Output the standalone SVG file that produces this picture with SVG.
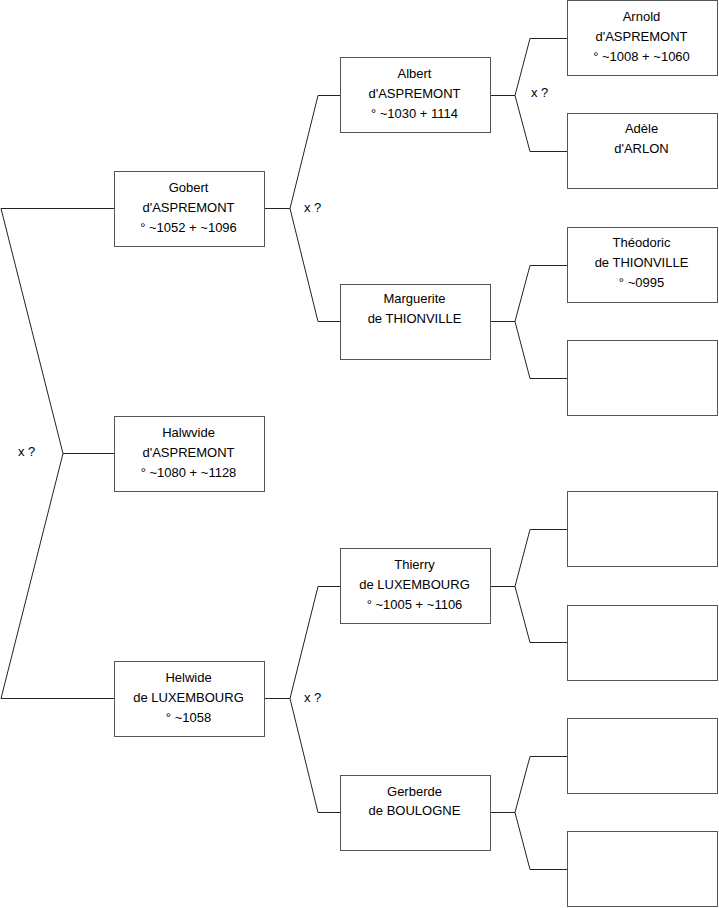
<svg xmlns="http://www.w3.org/2000/svg" width="719" height="908" viewBox="0 0 719 908">
<style>
.box{fill:#fff;stroke:#555;stroke-width:1}
.t{font-family:"Liberation Sans",Arial,sans-serif;font-size:13px;fill:#000;text-anchor:middle}
.x{font-family:"Liberation Sans",Arial,sans-serif;font-size:13px;fill:#000}
.c{fill:none;stroke:#222;stroke-width:1}
</style>
<rect width="719" height="908" fill="#fff"/>
<g id="connectors">
<polyline class="c" points="114,453.5 63,453.5"/>
<polyline class="c" points="63,453.5 1,208.5 114,208.5"/>
<polyline class="c" points="63,453.5 1,698.5 114,698.5"/>
<polyline class="c" points="265,208.5 290,208.5 318,95.5 340,95.5"/>
<polyline class="c" points="290,208.5 318,321.5 340,321.5"/>
<polyline class="c" points="265,698.5 290,698.5 318,586.5 340,586.5"/>
<polyline class="c" points="290,698.5 318,812.5 340,812.5"/>
<polyline class="c" points="491,95.5 515,95.5 530,38.5 567,38.5"/>
<polyline class="c" points="515,95.5 530,151.5 567,151.5"/>
<polyline class="c" points="491,321.5 515,321.5 530,265.5 567,265.5"/>
<polyline class="c" points="515,321.5 530,378.5 567,378.5"/>
<polyline class="c" points="491,586.5 515,586.5 530,529.5 567,529.5"/>
<polyline class="c" points="515,586.5 530,642.5 567,642.5"/>
<polyline class="c" points="491,812.5 515,812.5 530,756.5 567,756.5"/>
<polyline class="c" points="515,812.5 530,869.5 567,869.5"/>
<text class="x" x="18" y="456">x ?</text>
<text class="x" x="304" y="212">x ?</text>
<text class="x" x="304" y="702">x ?</text>
<text class="x" x="531" y="97">x ?</text>
</g>
<g id="halwvide">
<rect class="box" x="114.5" y="416.5" width="150" height="75"/>
<text class="t" x="188.5" y="437">Halwvide</text>
<text class="t" x="188.5" y="457">d'ASPREMONT</text>
<text class="t" x="188.5" y="477">° ~1080 + ~1128</text>
</g>
<g id="gobert">
<rect class="box" x="114.5" y="171.5" width="150" height="75"/>
<text class="t" x="188.5" y="192">Gobert</text>
<text class="t" x="188.5" y="212">d'ASPREMONT</text>
<text class="t" x="188.5" y="232">° ~1052 + ~1096</text>
</g>
<g id="helwide">
<rect class="box" x="114.5" y="661.5" width="150" height="75"/>
<text class="t" x="188.5" y="682">Helwide</text>
<text class="t" x="188.5" y="702">de LUXEMBOURG</text>
<text class="t" x="188.5" y="722">° ~1058</text>
</g>
<g id="albert">
<rect class="box" x="340.5" y="57.5" width="150" height="75"/>
<text class="t" x="414.5" y="78">Albert</text>
<text class="t" x="414.5" y="98">d'ASPREMONT</text>
<text class="t" x="414.5" y="118">° ~1030 + 1114</text>
</g>
<g id="marguerite">
<rect class="box" x="340.5" y="284.5" width="150" height="75"/>
<text class="t" x="414.5" y="303">Marguerite</text>
<text class="t" x="414.5" y="323">de THIONVILLE</text>
</g>
<g id="thierry">
<rect class="box" x="340.5" y="548.5" width="150" height="75"/>
<text class="t" x="414.5" y="569">Thierry</text>
<text class="t" x="414.5" y="589">de LUXEMBOURG</text>
<text class="t" x="414.5" y="609">° ~1005 + ~1106</text>
</g>
<g id="gerberde">
<rect class="box" x="340.5" y="775.5" width="150" height="75"/>
<text class="t" x="414.5" y="796">Gerberde</text>
<text class="t" x="414.5" y="815">de BOULOGNE</text>
</g>
<g id="arnold">
<rect class="box" x="567.5" y="0.5" width="150" height="75"/>
<text class="t" x="641.5" y="21">Arnold</text>
<text class="t" x="641.5" y="41">d'ASPREMONT</text>
<text class="t" x="641.5" y="61">° ~1008 + ~1060</text>
</g>
<g id="adele">
<rect class="box" x="567.5" y="113.5" width="150" height="75"/>
<text class="t" x="641.5" y="133">Adèle</text>
<text class="t" x="641.5" y="153">d'ARLON</text>
</g>
<g id="theodoric">
<rect class="box" x="567.5" y="227.5" width="150" height="75"/>
<text class="t" x="641.5" y="247">Théodoric</text>
<text class="t" x="641.5" y="267">de THIONVILLE</text>
<text class="t" x="641.5" y="287">° ~0995</text>
</g>
<g id="empty1"><rect class="box" x="567.5" y="340.5" width="150" height="75"/></g>
<g id="empty2"><rect class="box" x="567.5" y="491.5" width="150" height="75"/></g>
<g id="empty3"><rect class="box" x="567.5" y="605.5" width="150" height="75"/></g>
<g id="empty4"><rect class="box" x="567.5" y="718.5" width="150" height="75"/></g>
<g id="empty5"><rect class="box" x="567.5" y="831.5" width="150" height="75"/></g>
</svg>
